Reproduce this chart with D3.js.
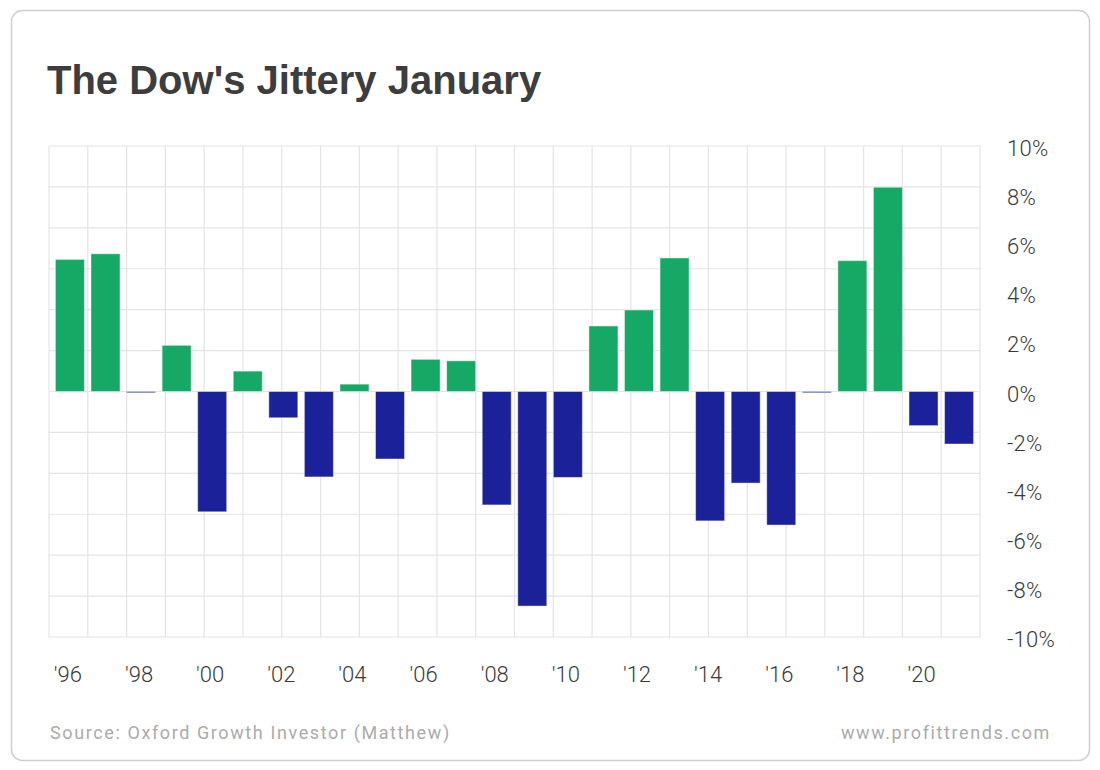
<!DOCTYPE html>
<html>
<head>
<meta charset="utf-8">
<script src="https://cdn.jsdelivr.net/npm/d3@7"></script>
<style>
  html, body { margin: 0; padding: 0; background: #fff; }
  svg { display: block; }
</style>
</head>
<body>
<svg id="chart" width="1100" height="770"></svg>
<script>
// ---- Data ----
const years = [1996, 1997, 1998, 1999, 2000, 2001, 2002, 2003, 2004, 2005, 2006, 2007, 2008,
               2009, 2010, 2011, 2012, 2013, 2014, 2015, 2016, 2017, 2018, 2019, 2020, 2021];
const januaryChange = [5.38, 5.61, -0.05, 1.88, -4.9, 0.83, -1.07, -3.48, 0.3, -2.75, 1.31, 1.25, -4.62,
                       -8.74, -3.5, 2.67, 3.32, 5.44, -5.27, -3.73, -5.44, -0.05, 5.33, 8.32, -1.39, -2.14];
const xTickYears = [1996, 1998, 2000, 2002, 2004, 2006, 2008, 2010, 2012, 2014, 2016, 2018, 2020];
const yTicks = [10, 8, 6, 4, 2, 0, -2, -4, -6, -8, -10];
const title = "The Dow's Jittery January";
const sourceText = "Source: Oxford Growth Investor (Matthew)";
const siteText = "www.profittrends.com";

// ---- Layout ----
const plot = { left: 49, right: 980, top: 146, bottom: 637 };
const green = "#16a965", blue = "#1b2299";

const svg = d3.select("#chart");

// card
svg.append("rect")
  .attr("x", 11.5).attr("y", 10.5)
  .attr("width", 1078).attr("height", 750)
  .attr("rx", 11).attr("ry", 11)
  .attr("fill", "#fff").attr("stroke", "#cfcfcf").attr("stroke-width", 1.5);

svg.append("text")
  .attr("x", 47).attr("y", 94)
  .attr("font-family", "'Liberation Sans', Arial, sans-serif")
  .attr("font-weight", 700).attr("font-size", 40)
  .attr("fill", "#3d3d3d")
  .text(title);

const x = d3.scaleBand()
  .domain(years)
  .range([plot.left, plot.right])
  .paddingInner(0.184)
  .paddingOuter(0.18);

const y = d3.scaleLinear()
  .domain([-10, 10])
  .range([plot.bottom, plot.top]);

// grid
const gridG = svg.append("g");
const gx = d3.scaleLinear().domain([0, 24]).range([plot.left, plot.right]);
gridG.selectAll("line.v").data(d3.range(25)).join("line")
  .attr("x1", d => gx(d)).attr("x2", d => gx(d))
  .attr("y1", plot.top).attr("y2", plot.bottom)
  .attr("stroke", "#e4e4e4").attr("stroke-width", 1.2);
const gy = d3.scaleLinear().domain([0, 12]).range([plot.bottom, plot.top]);
gridG.selectAll("line.h").data(d3.range(13)).join("line")
  .attr("x1", plot.left).attr("x2", plot.right)
  .attr("y1", d => gy(d)).attr("y2", d => gy(d))
  .attr("stroke", "#e4e4e4").attr("stroke-width", 1.2);

// bars
svg.append("g").selectAll("rect").data(years).join("rect")
  .attr("x", d => x(d))
  .attr("width", x.bandwidth())
  .attr("y", (d, i) => y(Math.max(0, januaryChange[i])))
  .attr("height", (d, i) => Math.max(1, Math.abs(y(januaryChange[i]) - y(0))))
  .attr("fill", (d, i) => januaryChange[i] >= 0 ? green : blue)
  .attr("stroke", "rgba(255,255,255,0.45)").attr("stroke-width", 1);

// x axis labels
const xAxis = d3.axisBottom(x)
  .tickValues(xTickYears)
  .tickSize(0)
  .tickPadding(0)
  .tickFormat(d => "'" + String(d).slice(2));
const xg = svg.append("g").attr("transform", `translate(-2,${plot.bottom + 45})`).call(xAxis);
xg.select(".domain").remove();
xg.selectAll("text")
  .attr("font-family", "Roboto, sans-serif").attr("font-size", 22).attr("font-weight", 300)
  .attr("fill", "#3a3a3a").attr("dy", 0);

// y axis labels
const yAxis = d3.axisRight(y)
  .tickValues(yTicks)
  .tickSize(0)
  .tickPadding(0)
  .tickFormat(d => d + "%");
const yg = svg.append("g").attr("transform", `translate(1007,2.5)`).call(yAxis);
yg.select(".domain").remove();
yg.selectAll("text")
  .attr("font-family", "Roboto, sans-serif").attr("font-size", 22).attr("font-weight", 300)
  .attr("letter-spacing", 0.3)
  .attr("fill", "#3a3a3a");

// footer
svg.append("text")
  .attr("x", 50).attr("y", 739)
  .attr("font-family", "Roboto, sans-serif").attr("font-size", 18)
  .attr("letter-spacing", 1.6)
  .attr("fill", "#ababab")
  .text(sourceText);
svg.append("text")
  .attr("x", 1051).attr("y", 739)
  .attr("text-anchor", "end")
  .attr("font-family", "Roboto, sans-serif").attr("font-size", 18)
  .attr("letter-spacing", 1.6)
  .attr("fill", "#ababab")
  .text(siteText);
</script>
</body>
</html>
